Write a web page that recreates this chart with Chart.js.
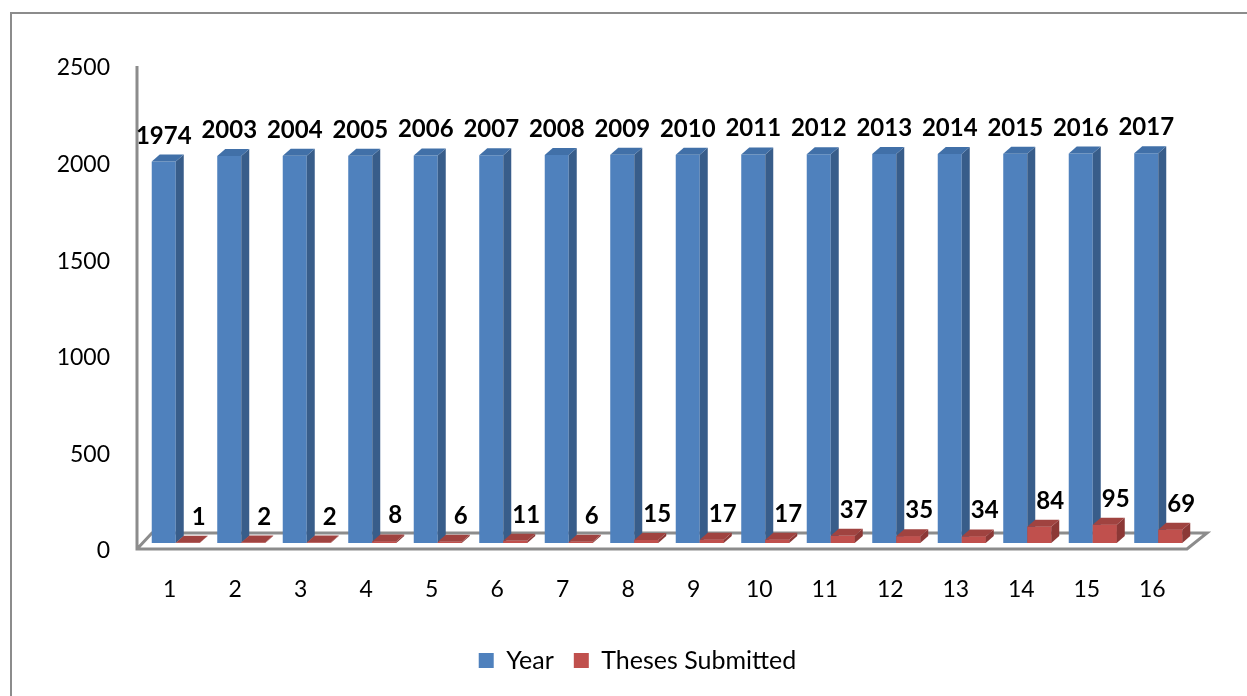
<!DOCTYPE html>
<html>
<head>
<meta charset="utf-8">
<script src="https://cdn.jsdelivr.net/npm/chart.js@4.4.1/dist/chart.umd.min.js"></script>
<style>
  body { margin: 0; background: #fff; overflow: hidden; }
  #wrap { position: relative; width: 1247px; height: 696px; }
  #frame { position: absolute; left: 10px; top: 12px; width: 1260px; height: 720px; border: 2px solid #8c8c8c; }
  canvas { position: absolute; left: 0; top: 0; }
</style>
</head>
<body>
<div id="wrap">
  <div id="frame"></div>
  <canvas id="myChart" width="1247" height="696"></canvas>
</div>
<script>
// Chart data
var categories = ['1', '2', '3', '4', '5', '6', '7', '8', '9', '10', '11', '12', '13', '14', '15', '16'];
var years = [1974, 2003, 2004, 2005, 2006, 2007, 2008, 2009, 2010, 2011, 2012, 2013, 2014, 2015, 2016, 2017];
var theses = [1, 2, 2, 8, 6, 11, 6, 15, 17, 17, 37, 35, 34, 84, 95, 69];
var yTicks = [0, 500, 1000, 1500, 2000, 2500];

// 3D look: depth of bar faces
var depthX = 8;
var depthY = 7;

var faceColors = [
    { side: '#385d8a', top: '#4170a8' },
    { side: '#8c3836', top: '#a04340' }
];

// Floor and axis lines drawn behind the bars
var floorPlugin = {
    id: 'floor',
    beforeDatasetsDraw: function(chart) {
        var a = chart.chartArea;
        var ctx = chart.ctx;
        ctx.save();
        ctx.strokeStyle = '#8c8c8c';
        ctx.lineWidth = 3;
        ctx.beginPath();
        ctx.moveTo(a.left - 6, a.top + 6);
        ctx.lineTo(a.left - 6, a.bottom + 6);
        ctx.lineTo(a.right - 4, a.bottom + 6);
        ctx.lineTo(a.right + 16, a.bottom - 10);
        ctx.lineTo(a.left + 9, a.bottom - 10);
        ctx.lineTo(a.left - 6, a.bottom + 6);
        ctx.stroke();
        ctx.restore();
    },
    // move the legend a bit to the right, like the original
    afterLayout: function(chart) {
        chart.legend.left += 15;
        chart.legend.right += 15;
    }
};

function drawFaces(ctx, meta, colors) {
    meta.data.forEach(function(bar) {
        var p = bar.getProps(['x', 'y', 'base', 'width'], true);
        var left = p.x - p.width / 2;
        var right = p.x + p.width / 2;
        ctx.fillStyle = colors.side;
        ctx.beginPath();
        ctx.moveTo(right, p.y);
        ctx.lineTo(right + depthX, p.y - depthY);
        ctx.lineTo(right + depthX, p.base - depthY);
        ctx.lineTo(right, p.base);
        ctx.closePath();
        ctx.fill();
        ctx.fillStyle = colors.top;
        ctx.beginPath();
        ctx.moveTo(left, p.y);
        ctx.lineTo(left + depthX, p.y - depthY);
        ctx.lineTo(right + depthX, p.y - depthY);
        ctx.lineTo(right, p.y);
        ctx.closePath();
        ctx.fill();
    });
}

// Side and top faces: blue first, then red in front of them
var depthPlugin = {
    id: 'depth',
    afterDatasetsDraw: function(chart) {
        var ctx = chart.ctx;
        ctx.save();
        drawFaces(ctx, chart.getDatasetMeta(0), faceColors[0]);
        var red = chart.getDatasetMeta(1);
        red.data.forEach(function(bar) { bar.draw(ctx, chart.chartArea); });
        drawFaces(ctx, red, faceColors[1]);
        ctx.restore();
    }
};

// Value labels above the bars
var valueLabels = {
    id: 'valueLabels',
    afterDatasetsDraw: function(chart) {
        var ctx = chart.ctx;
        ctx.save();
        ctx.font = 'bold 24px Lato';
        ctx.fillStyle = '#000';
        ctx.textAlign = 'center';
        ctx.textBaseline = 'alphabetic';
        chart.data.datasets.forEach(function(ds, i) {
            var meta = chart.getDatasetMeta(i);
            meta.data.forEach(function(bar, j) {
                var shift = i === 1 ? 11 : 0;
                ctx.fillText(String(ds.data[j]), bar.x + shift, bar.y - 18);
            });
        });
        ctx.restore();
    }
};

var ctx = document.getElementById('myChart').getContext('2d');

var myChart = new Chart(ctx, {
    type: 'bar',
    data: {
        labels: categories,
        datasets: [{
            label: 'Year',
            data: years,
            backgroundColor: '#4f81bd'
        }, {
            label: 'Theses Submitted',
            data: theses,
            backgroundColor: '#c0504d'
        }]
    },
    options: {
        responsive: false,
        animation: false,
        devicePixelRatio: 1,
        categoryPercentage: 0.733,
        barPercentage: 1,
        layout: {
            padding: { left: 54, right: 56, top: 60, bottom: 13 }
        },
        scales: {
            x: {
                grid: { display: false },
                border: { display: false },
                ticks: {
                    color: '#000',
                    font: { family: 'Lato', size: 23 },
                    padding: 25,
                    labelOffset: -6,
                    maxRotation: 0
                },
                afterFit: function(scale) { scale.height = 85; }
            },
            y: {
                min: 0,
                max: 2500,
                grid: { display: false, drawTicks: false },
                border: { display: false },
                afterBuildTicks: function(scale) {
                    scale.ticks = yTicks.map(function(v) { return { value: v }; });
                },
                ticks: {
                    color: '#000',
                    font: { family: 'Lato', size: 23 },
                    padding: 33,
                    labelOffset: 8,
                    callback: function(value) { return String(value); }
                },
                afterFit: function(scale) { scale.width = 89; }
            }
        },
        plugins: {
            legend: {
                position: 'bottom',
                labels: {
                    color: '#000',
                    font: { family: 'Lato', size: 25 },
                    boxWidth: 15,
                    boxHeight: 15,
                    padding: 20
                }
            },
            tooltip: { enabled: false }
        }
    },
    plugins: [floorPlugin, depthPlugin, valueLabels]
});
</script>
</body>
</html>
